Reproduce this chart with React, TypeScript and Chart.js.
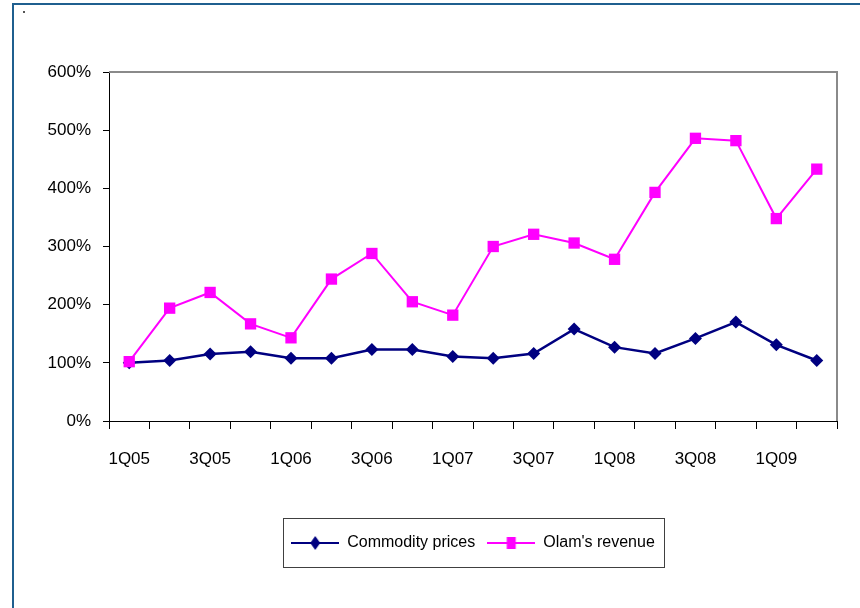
import React, { useEffect, useRef } from 'react';
import { Chart, registerables } from 'chart.js';

Chart.register(...registerables);

const categories = ['1Q05', '2Q05', '3Q05', '4Q05', '1Q06', '2Q06', '3Q06', '4Q06', '1Q07', '2Q07', '3Q07', '4Q07', '1Q08', '2Q08', '3Q08', '4Q08', '1Q09', '2Q09'];
const commodityPrices = [100, 104, 115, 119, 108, 108, 123, 123, 111, 108, 116, 158, 127, 116, 142, 170, 131, 104];
const olamRevenue = [102, 194, 221, 167, 143, 244, 288, 205, 182, 300, 321, 306, 278, 393, 486, 482, 348, 433];
const seriesNames = ['Commodity prices', "Olam's revenue"];
const yMin = 0;
const yMax = 600;
const yStep = 100;

const FONT = '"Liberation Sans Narrow", "Arial Narrow", "Liberation Sans", Arial, sans-serif';
const NAVY = '#000080';
const MAGENTA = '#FF00FF';

function makeIcon(color: string, shape: 'diamond' | 'square'): HTMLCanvasElement {
  const c = document.createElement('canvas');
  c.width = 48;
  c.height = 16;
  const ctx = c.getContext('2d')!;
  ctx.strokeStyle = color;
  ctx.lineWidth = 2;
  ctx.beginPath();
  ctx.moveTo(0, 8);
  ctx.lineTo(48, 8);
  ctx.stroke();
  ctx.fillStyle = color;
  ctx.beginPath();
  if (shape === 'diamond') {
    ctx.moveTo(24, 1);
    ctx.lineTo(29, 8);
    ctx.lineTo(24, 15);
    ctx.lineTo(19, 8);
    ctx.closePath();
  } else {
    ctx.rect(19.5, 2, 9, 12);
  }
  ctx.fill();
  return c;
}

export default function App() {
  const ref = useRef<HTMLCanvasElement | null>(null);

  useEffect(() => {
    if (!ref.current) return;
    const icons = [makeIcon(NAVY, 'diamond'), makeIcon(MAGENTA, 'square')];

    const framePlugin = {
      id: 'frameExtras',
      afterDraw(chart: any) {
        const ctx = chart.ctx;
        const { left, right, top, bottom } = chart.chartArea;
        ctx.save();
        ctx.strokeStyle = '#8a8a8a';
        ctx.lineWidth = 2;
        ctx.beginPath();
        ctx.moveTo(left, top);
        ctx.lineTo(right, top);
        ctx.lineTo(right, bottom);
        ctx.stroke();
        const hb = chart.legend && chart.legend.legendHitBoxes;
        if (hb && hb.length) {
          const l = Math.min(...hb.map((h: any) => h.left)) - 8;
          const r = Math.max(...hb.map((h: any) => h.left + h.width)) + 9;
          const cy = hb[0].top + hb[0].height / 2;
          ctx.strokeStyle = '#404040';
          ctx.lineWidth = 1;
          ctx.strokeRect(Math.round(l) + 0.5, Math.round(cy - 25) + 0.5, Math.round(r - l), 49);
        }
        ctx.restore();
      },
    };

    const chart = new Chart(ref.current, {
      type: 'line',
      data: {
        labels: categories,
        datasets: [
          {
            label: seriesNames[0],
            data: commodityPrices,
            borderColor: NAVY,
            backgroundColor: NAVY,
            borderWidth: 2.5,
            pointStyle: 'rectRot',
            pointRadius: 6.5,
            pointBorderWidth: 0,
            tension: 0,
            fill: false,
            order: 1,
          },
          {
            label: seriesNames[1],
            data: olamRevenue,
            borderColor: MAGENTA,
            backgroundColor: MAGENTA,
            borderWidth: 2,
            pointStyle: 'rect',
            pointRadius: 8,
            pointBorderWidth: 0,
            tension: 0,
            fill: false,
            order: 0,
          },
        ],
      },
      options: {
        responsive: false,
        animation: false,
        events: [],
        layout: { padding: { left: 0, right: 23, top: 72, bottom: 47 } },
        plugins: {
          title: { display: false },
          tooltip: { enabled: false },
          legend: {
            display: true,
            position: 'bottom',
            fullSize: false,
            labels: {
              usePointStyle: true,
              pointStyleWidth: 48,
              padding: 12,
              color: '#000',
              font: { family: FONT, size: 16 },
              generateLabels: (chart: any) => {
                const items = Chart.defaults.plugins.legend.labels.generateLabels(chart);
                items.sort((a: any, b: any) => a.datasetIndex - b.datasetIndex);
                return items.map((it: any) => ({ ...it, pointStyle: icons[it.datasetIndex], lineWidth: 0 }));
              },
            },
          },
        },
        scales: {
          x: {
            type: 'category',
            offset: true,
            afterFit: (scale: any) => {
              scale.height = 102;
            },
            grid: {
              offset: true,
              drawOnChartArea: false,
              drawTicks: true,
              tickLength: 8,
              color: '#000',
              lineWidth: 1,
            },
            border: { display: true, color: '#000', width: 1 },
            ticks: {
              autoSkip: false,
              maxRotation: 0,
              minRotation: 0,
              padding: 20,
              color: '#000',
              font: { family: FONT, size: 17 },
              callback: (_v: any, i: number) => (i % 2 === 0 ? categories[i] : ''),
            },
          },
          y: {
            min: yMin,
            max: yMax,
            afterFit: (scale: any) => {
              scale.width = 109;
            },
            grid: {
              drawOnChartArea: false,
              drawTicks: true,
              tickLength: 6,
              color: '#000',
              lineWidth: 1,
            },
            border: { display: true, color: '#000', width: 1 },
            ticks: {
              stepSize: yStep,
              padding: 12,
              color: '#000',
              font: { family: FONT, size: 17 },
              callback: (v: any) => `${v}%`,
            },
          },
        },
      },
      plugins: [framePlugin],
    } as any);

    return () => chart.destroy();
  }, []);

  return (
    <div style={{ position: 'fixed', left: 0, top: 0, width: 860, height: 608, background: '#fff', overflow: 'hidden' }}>
      <div
        style={{
          position: 'absolute',
          left: 12,
          top: 3,
          width: 900,
          height: 700,
          borderTop: '2px solid #1f5f8f',
          borderLeft: '2px solid #1f5f8f',
        }}
      />
      <div style={{ position: 'absolute', left: 23, top: 11, width: 2, height: 2, background: '#555' }} />
      <canvas ref={ref} width={860} height={608} style={{ position: 'absolute', left: 0, top: 0, display: 'block' }} />
    </div>
  );
}
